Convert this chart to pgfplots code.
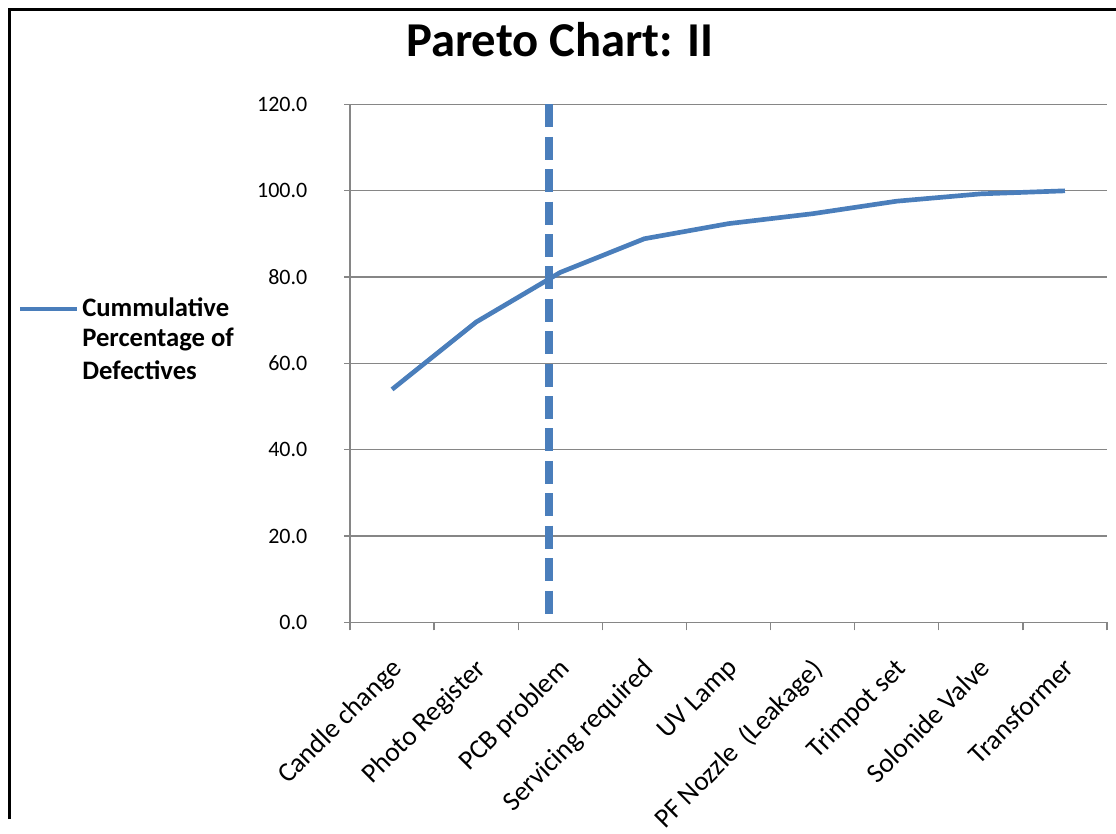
\documentclass[border=0pt]{standalone}
\usepackage{pgfplots}
\pgfplotsset{compat=1.18}
\usepackage{fontspec}
\setmainfont{Carlito}
\definecolor{excelblue}{RGB}{74,126,187}
\definecolor{gridgray}{RGB}{134,134,134}
\begin{document}
\begin{tikzpicture}
\begin{scope}[x=0.75pt,y=0.75pt]
\path[use as bounding box] (0,0) rectangle (1116,817);
\fill[white] (-2,-2) rectangle (1118,819);
\draw[line width=2.25pt,black] (9.5,-2) -- (9.5,807.5) -- (1118,807.5);
\node[font=\bfseries\fontsize{36.5}{42}\selectfont, anchor=base] at (560,760) {Pareto Chart: II};
% legend
\draw[excelblue, line width=3pt] (20,507.7) -- (77,507.7);
\node[font=\bfseries\fontsize{20}{24}\selectfont, anchor=base west, inner sep=0pt] at (82,500.3) {Cummulative};
\node[font=\bfseries\fontsize{20}{24}\selectfont, anchor=base west, inner sep=0pt] at (82,470.3) {Percentage of};
\node[font=\bfseries\fontsize{20}{24}\selectfont, anchor=base west, inner sep=0pt] at (82,437) {Defectives};
\end{scope}
\begin{axis}[
  at={(262.5pt,145.875pt)}, anchor=south west,
  scale only axis, width=567.75pt, height=388.5pt,
  xmin=-0.5, xmax=8.5, ymin=0, ymax=120,
  axis lines*=left,
  axis line style={gridgray, line width=1pt},
  tick align=outside,
  major tick length=4.5pt, minor tick length=6pt,
  /pgf/number format/assume math mode=true,
  ytick={0,20,...,120},
  ymajorgrids, grid style={gridgray, line width=1pt},
  y tick style={gridgray, line width=1pt},
  yticklabel={\pgfmathprintnumber[fixed,fixed zerofill,precision=1,assume math mode=true]{\tick}},
  yticklabel style={font=\fontsize{16.5}{19.8}\selectfont, xshift=-24pt},
  xtick={0,...,8},
  major x tick style={draw=none},
  minor xtick={-0.5,0.5,...,8.5},
  minor x tick style={gridgray, line width=1pt},
  xticklabels={Candle change, Photo Register, PCB problem, Servicing required, UV Lamp, PF Nozzle\ \ (Leakage), Trimpot set, Solonide Valve, Transformer},
  xticklabel style={font=\fontsize{20.5}{24}\selectfont, shift={(-2pt,-21pt)}, rotate=45, anchor=north east, inner sep=0pt},
]
\addplot[excelblue, line width=3.5pt] coordinates {(0,54.0)(1,69.6)(2,81.1)(3,88.9)(4,92.4)(5,94.7)(6,97.6)(7,99.3)(8,100.0)};
\addplot[excelblue, line width=6pt, dash pattern=on 17.25pt off 7.05pt] coordinates {(1.866,120)(1.866,1.9)};
\end{axis}
\end{tikzpicture}
\end{document}
